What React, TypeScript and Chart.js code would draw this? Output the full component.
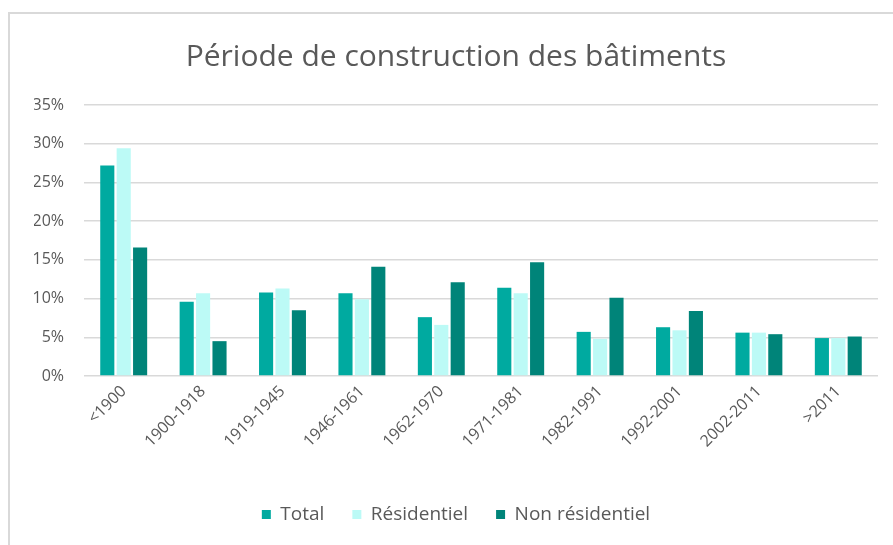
import React, { useEffect, useRef } from "react";
import { Chart, registerables } from "chart.js";

Chart.register(...registerables);

const titleText = "Période de construction des bâtiments";
const categories = ["<1900", "1900-1918", "1919-1945", "1946-1961", "1962-1970", "1971-1981", "1982-1991", "1992-2001", "2002-2011", ">2011"];
const seriesNames = ["Total", "Résidentiel", "Non résidentiel"];
const totalValues = [27.2, 9.6, 10.8, 10.7, 7.6, 11.4, 5.7, 6.3, 5.6, 4.9];
const residentialValues = [29.4, 10.7, 11.3, 9.9, 6.6, 10.7, 4.8, 5.9, 5.6, 4.9];
const nonResidentialValues = [16.6, 4.5, 8.5, 14.1, 12.1, 14.7, 10.1, 8.4, 5.4, 5.1];
const seriesColors = ["#00AAA0", "#BCFAF6", "#008479"];
const yMax = 35;
const yStep = 5;

const FONT = "'Open Sans', 'Noto Sans', sans-serif";
const TEXT = "#595959";

export default function App() {
  const canvasRef = useRef<HTMLCanvasElement | null>(null);

  useEffect(() => {
    const canvas = canvasRef.current;
    if (!canvas) return;
    const values = [totalValues, residentialValues, nonResidentialValues];
    const chart = new Chart(canvas, {
      type: "bar",
      data: {
        labels: categories,
        datasets: seriesNames.map((name, i) => ({
          label: name,
          data: values[i],
          backgroundColor: seriesColors[i],
          borderWidth: 0,
          categoryPercentage: 0.62,
          barPercentage: 0.86,
        })),
      },
      options: {
        responsive: false,
        animation: false,
        layout: { padding: { left: 34, right: 15, top: 22, bottom: 11 } },
        plugins: {
          title: {
            display: true,
            text: titleText,
            color: TEXT,
            font: { family: FONT, size: 30, weight: "normal" },
            padding: { top: 17, bottom: 30 },
          },
          legend: {
            display: true,
            position: "bottom",
            labels: {
              color: TEXT,
              font: { family: FONT, size: 19 },
              boxWidth: 9,
              boxHeight: 9,
              padding: 28,
            },
          },
          tooltip: { enabled: false },
        },
        scales: {
          x: {
            grid: { display: false, drawTicks: false },
            border: { display: false },
            ticks: {
              color: TEXT,
              font: { family: FONT, size: 16 },
              minRotation: 45,
              maxRotation: 45,
              padding: 6,
              autoSkip: false,
            },
            afterFit: (scale: any) => {
              scale.height = 101;
            },
          },
          y: {
            min: 0,
            max: yMax,
            grid: { color: "#d9d9d9", lineWidth: 1.5, drawTicks: false },
            border: { display: false },
            ticks: {
              stepSize: yStep,
              color: TEXT,
              font: { family: FONT, size: 16 },
              padding: 20,
              callback: (v: any) => `${v}%`,
            },
            afterFit: (scale: any) => {
              scale.width = 50;
            },
          },
        },
      },
    });
    return () => chart.destroy();
  }, []);

  return (
    <div style={{ position: "absolute", left: 0, top: 0, width: 893, height: 545, overflow: "hidden", background: "#fff" }}>
      <div style={{ position: "absolute", left: 8, top: 12, width: 900, height: 600, border: "2px solid #d9d9d9", boxSizing: "border-box" }} />
      <canvas ref={canvasRef} width={893} height={545} style={{ position: "absolute", left: 0, top: 0 }} />
    </div>
  );
}
